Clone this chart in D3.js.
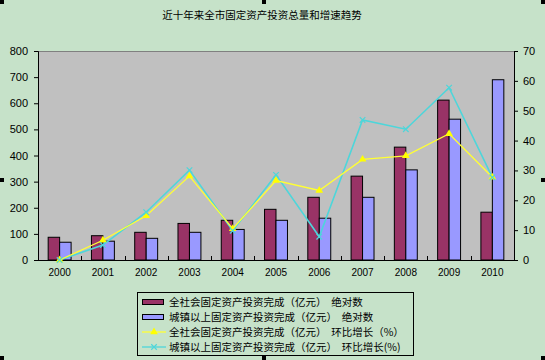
<!DOCTYPE html>
<html><head><meta charset="utf-8">
<script src="https://cdn.jsdelivr.net/npm/d3@7"></script>
<style>body{margin:0;background:#C6E2C9;}svg{display:block;}</style>
</head><body>
<script>
const years = ["2000","2001","2002","2003","2004","2005","2006","2007","2008","2009","2010"];
const totalAbs = [87, 93, 106, 140, 152, 194, 240, 321, 432, 612, 183];
const urbanAbs = [68, 72, 83, 106, 117, 152, 160, 240, 345, 539, 690];
const totalGrowth = [0, 6.6, 14.8, 28.1, 10.5, 26.6, 23.3, 33.7, 34.9, 42.3, 27.7];
const urbanGrowth = [0, 5.0, 16.0, 30.1, 9.8, 28.5, 7.8, 46.9, 43.8, 57.7, 27.7];
const leftTicks = [0,100,200,300,400,500,600,700,800];
const rightTicks = [0,10,20,30,40,50,60,70];
const title = "近十年来全市固定资产投资总量和增速趋势";
const legendLabels = [
  "全社会固定资产投资完成（亿元）  绝对数",
  "城镇以上固定资产投资完成（亿元）  绝对数",
  "全社会固定资产投资完成（亿元）  环比增长（%）",
  "城镇以上固定资产投资完成（亿元）  环比增长(%)"
];

const W=545,H=360;
const svg=d3.select("body").append("svg").attr("width",W).attr("height",H);
svg.append("rect").attr("width",W).attr("height",H).attr("fill","#C6E2C9");
const font="Liberation Sans, Arial, sans-serif";
const cjk="'Noto Sans CJK SC', sans-serif";

const L=38,R=514,T=51,B=260;
const x=d3.scaleBand().domain(years).range([L,R]);
const yL=d3.scaleLinear().domain([0,800]).range([B,T]);
const yR=d3.scaleLinear().domain([0,70]).range([B,T]);

svg.append("rect").attr("x",L).attr("y",T).attr("width",R-L).attr("height",B-T).attr("fill","#C0C0C0");
svg.append("line").attr("x1",L).attr("x2",R).attr("y1",T+0.5).attr("y2",T+0.5).attr("stroke","#808080");

svg.append("text").attr("x",262).attr("y",19).attr("text-anchor","middle")
  .attr("font-family",cjk).attr("font-size",10.5).attr("fill","#000").text(title);

// bars
const bw=x.bandwidth()*0.265;
const g=svg.append("g");
g.selectAll(".b1").data(years).enter().append("rect")
  .attr("x",d=>x(d)+x.bandwidth()/2-bw).attr("y",(d,i)=>yL(totalAbs[i]))
  .attr("width",bw).attr("height",(d,i)=>B-yL(totalAbs[i]))
  .attr("fill","#993366").attr("stroke","#000").attr("stroke-width",1);
g.selectAll(".b2").data(years).enter().append("rect")
  .attr("x",d=>x(d)+x.bandwidth()/2).attr("y",(d,i)=>yL(urbanAbs[i]))
  .attr("width",bw).attr("height",(d,i)=>B-yL(urbanAbs[i]))
  .attr("fill","#9999FF").attr("stroke","#000").attr("stroke-width",1);

// axes
const axL=d3.axisLeft(yL).tickValues(leftTicks).tickSize(4).tickPadding(6);
const gl=svg.append("g").attr("transform",`translate(${L},0)`).call(axL);
const axR=d3.axisRight(yR).tickValues(rightTicks).tickSize(4).tickPadding(5);
const gr=svg.append("g").attr("transform",`translate(${R},0)`).call(axR);
const axB=d3.axisBottom(x).tickSize(0).tickPadding(9);
const gb=svg.append("g").attr("transform",`translate(0,${B})`).call(axB);
[gl,gr,gb].forEach(a=>{
  a.selectAll("text").attr("font-family",font).attr("font-size",11).attr("fill","#000");
  a.select(".domain").attr("stroke","#000");
  a.selectAll(".tick line").attr("stroke","#000");
});
gb.selectAll("text").attr("font-size",10);
gb.select(".domain").remove();
svg.append("line").attr("x1",L).attr("x2",R).attr("y1",B+0.5).attr("y2",B+0.5).attr("stroke","#000");
// inside tick marks between categories
svg.selectAll(".xt").data(years.slice(1)).enter().append("line")
  .attr("x1",d=>Math.round(x(d))+0.5).attr("x2",d=>Math.round(x(d))+0.5)
  .attr("y1",B).attr("y2",B-4).attr("stroke","#000");

// lines
const cx=(d,i)=>x(years[i])+x.bandwidth()/2;
const line1=d3.line().x((d,i)=>cx(d,i)).y(d=>yR(d));
svg.append("path").attr("d",line1(urbanGrowth)).attr("fill","none").attr("stroke","#4DD6DA").attr("stroke-width",1.6);
svg.append("path").attr("d",line1(totalGrowth)).attr("fill","none").attr("stroke","#FFFF33").attr("stroke-width",1.3);
const tri=d3.symbol().type(d3.symbolTriangle).size(26);
svg.selectAll(".m1").data(totalGrowth).enter().append("path")
  .attr("d",tri).attr("transform",(d,i)=>`translate(${cx(d,i)},${yR(d)})`).attr("fill","#FFFF00");
const cross=d3.symbol().type(d3.symbolX).size(22);
svg.selectAll(".m2").data(urbanGrowth).enter().append("path")
  .attr("d",cross).attr("transform",(d,i)=>`translate(${cx(d,i)},${yR(d)})`)
  .attr("fill","none").attr("stroke","#4DD6DA").attr("stroke-width",1.2);

// legend
const lg=svg.append("g");
lg.append("rect").attr("x",137.5).attr("y",292.5).attr("width",276).attr("height",63)
  .attr("fill","#C6E2C9").attr("stroke","#000").attr("stroke-width",1);
const rowY=[302,317,332,347];
lg.append("rect").attr("x",142.5).attr("y",rowY[0]-2.5).attr("width",21).attr("height",5).attr("fill","#993366").attr("stroke","#000");
lg.append("rect").attr("x",142.5).attr("y",rowY[1]-2.5).attr("width",21).attr("height",5).attr("fill","#9999FF").attr("stroke","#000");
lg.append("line").attr("x1",142).attr("x2",166).attr("y1",rowY[2]).attr("y2",rowY[2]).attr("stroke","#FFFF33").attr("stroke-width",1.3);
lg.append("path").attr("d",tri).attr("transform",`translate(154,${rowY[2]})`).attr("fill","#FFFF00");
lg.append("line").attr("x1",142).attr("x2",166).attr("y1",rowY[3]).attr("y2",rowY[3]).attr("stroke","#4DD6DA").attr("stroke-width",1.3);
lg.append("path").attr("d",cross).attr("transform",`translate(154,${rowY[3]})`).attr("fill","none").attr("stroke","#4DD6DA").attr("stroke-width",1.2);
lg.selectAll(".lt").data(legendLabels).enter().append("text")
  .attr("x",169).attr("y",(d,i)=>rowY[i]+4).attr("font-family",cjk).attr("font-size",10.5)
  .attr("fill","#000").attr("xml:space","preserve").style("white-space","pre").text(d=>d);

// selection handles
const hs=[[0,0],[262,0],[541,0],[0,178],[541,178],[0,356],[262,356],[541,356]];
svg.selectAll(".h").data(hs).enter().append("rect")
  .attr("x",d=>d[0]).attr("y",d=>d[1]).attr("width",4).attr("height",4).attr("fill","#000");
</script>
</body></html>
